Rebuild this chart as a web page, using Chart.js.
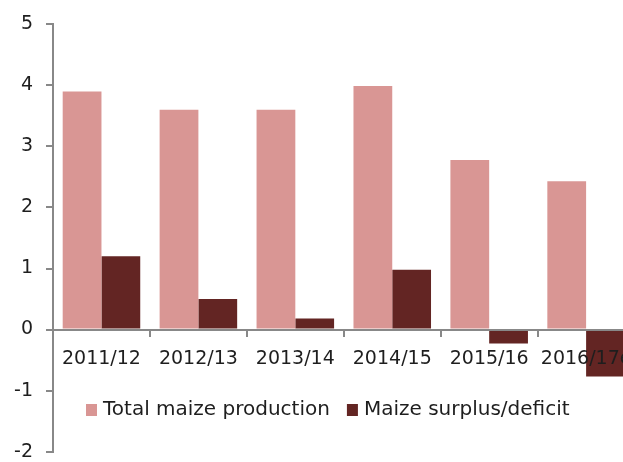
<!DOCTYPE html>
<html>
<head>
<meta charset="utf-8">
<script src="https://cdn.jsdelivr.net/npm/chart.js@4"></script>
<style>
  html, body { margin: 0; padding: 0; background: #fff; overflow: hidden; }
  canvas { display: block; }
</style>
</head>
<body>
<canvas id="chart" width="644" height="476"></canvas>
<script>
// data
const seasons = ['2011/12', '2012/13', '2013/14', '2014/15', '2015/16', '2016/17e'];
const production = [3.9, 3.6, 3.6, 3.99, 2.78, 2.43];
const surplus = [1.2, 0.5, 0.18, 0.98, -0.23, -0.77];
const seriesNames = ['Total maize production', 'Maize surplus/deficit'];
const seriesColors = ['#D99694', '#632523'];
const yMin = -2, yMax = 5, yStep = 1;

const textColor = '#1e1e1e';
const axisColor = '#888888';
const fontFamily = '"DejaVu Sans", sans-serif';

// legend sits inside the plot, below the category labels
const insideLegend = {
  id: 'insideLegend',
  afterDraw(chart) {
    const ctx = chart.ctx;
    ctx.save();
    ctx.font = '20px ' + fontFamily;
    ctx.textBaseline = 'middle';
    let x = 86;
    const y = 410;
    chart.data.datasets.forEach(ds => {
      ctx.fillStyle = ds.backgroundColor;
      ctx.fillRect(x, y - 6, 11, 12);
      x += 17;
      ctx.fillStyle = textColor;
      ctx.fillText(ds.label, x, y);
      x += ctx.measureText(ds.label).width + 17;
    });
    ctx.restore();
  }
};

new Chart(document.getElementById('chart'), {
  type: 'bar',
  data: {
    labels: seasons,
    datasets: [
      { label: seriesNames[0], data: production, backgroundColor: seriesColors[0] },
      { label: seriesNames[1], data: surplus, backgroundColor: seriesColors[1] }
    ]
  },
  options: {
    responsive: false,
    animation: false,
    devicePixelRatio: 1,
    layout: { padding: { top: 22, bottom: 11, left: 0, right: 7 } },
    datasets: { bar: { categoryPercentage: 0.8, barPercentage: 1.0 } },
    plugins: {
      legend: { display: false },
      tooltip: { enabled: false }
    },
    scales: {
      x: {
        position: { y: 0 },
        afterFit: s => { s.height = 0; },
        grid: { z: 1, drawOnChartArea: false, drawTicks: true, tickLength: 6, color: axisColor, lineWidth: 2, offset: true },
        border: { z: 1, color: axisColor, width: 2 },
        ticks: { z: 1, color: textColor, font: { family: fontFamily, size: 19 }, padding: 12, maxRotation: 0, autoSkip: false }
      },
      y: {
        min: yMin,
        max: yMax,
        afterFit: s => { s.width = 53; },
        grid: { drawOnChartArea: false, drawTicks: true, tickLength: 7, color: axisColor, lineWidth: 2 },
        border: { color: axisColor, width: 2 },
        ticks: { stepSize: yStep, color: textColor, font: { family: fontFamily, size: 19 }, padding: 13 }
      }
    }
  },
  plugins: [insideLegend]
});
</script>
</body>
</html>
